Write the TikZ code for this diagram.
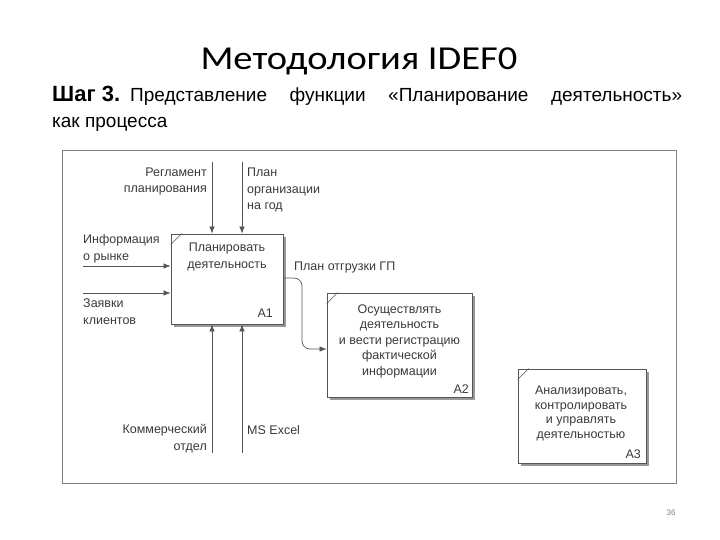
\documentclass[tikz,border=0pt]{standalone}
\usepackage{fontspec}
\setmainfont{Liberation Sans}
\newfontfamily\titlefont{Carlito}
\usetikzlibrary{arrows.meta,shadows}
\definecolor{ink}{HTML}{3A3A3A}
\definecolor{edge}{HTML}{555555}
\begin{document}
\begin{tikzpicture}[x=1pt,y=-1pt,
  box/.style={draw=edge,line width=0.8pt,fill=white,rectangle,inner sep=0pt,
    drop shadow={shadow xshift=3pt,shadow yshift=-3pt,fill=gray!80,opacity=1}},
  lbl/.style={text=ink,font=\fontsize{12.5}{16.5}\selectfont,inner sep=0pt},
  arr/.style={draw=edge,line width=0.7pt,-{Latex[length=7pt,width=5.5pt]}},
  frame/.style={draw=gray,line width=0.9pt}]
\useasboundingbox (0,0) rectangle (720,540);
% heading
\node[anchor=base,inner sep=0pt,font=\titlefont\fontsize{33.5}{38}\selectfont] (title) at (359,70) {\scalebox{1.15}[1]{Методология IDEF0}};
\node[anchor=base west,inner sep=0pt,font=\fontsize{19}{22}\selectfont] (step) at (52,102)
  {\hbox to 630pt{\textbf{\fontsize{22}{24}\selectfont Шаг 3.}\hskip 10pt Представление\hfill функции\hfill «Планирование\hfill деятельность»}};
\node[anchor=base west,inner sep=0pt,font=\fontsize{19}{22}\selectfont] (step2) at (52,128) {как процесса};
% frame
\node[frame,rectangle,minimum width=614pt,minimum height=333pt,inner sep=0pt] (fr) at (369,316.5) {};
% boxes
\node[box,minimum width=112pt,minimum height=90pt] (A1) at (227,279) {};
\node[box,minimum width=145pt,minimum height=104pt] (A2) at (399.5,345) {};
\node[box,minimum width=128pt,minimum height=94pt] (A3) at (582,416) {};
\foreach \b in {A1,A2,A3}{
  \draw[edge,line width=0.6pt] ([yshift=-11pt]\b.north west) -- ([xshift=11pt]\b.north west);
}
% box texts (base = last line)
\node[lbl,align=center,anchor=base] (t1) at (227,268) {Планировать\\деятельность};
\node[lbl,anchor=base east] (n1) at (273,317) {A1};
\node[lbl,align=center,anchor=base,font=\fontsize{12.5}{15.5}\selectfont] (t2) at (399.5,375) {Осуществлять\\деятельность\\и вести регистрацию\\фактической\\информации};
\node[lbl,anchor=base east] (n2) at (469,393) {A2};
\node[lbl,align=center,anchor=base,font=\fontsize{12.5}{14.5}\selectfont] (t3) at (581,438) {Анализировать,\\контролировать\\и управлять\\деятельностью};
\node[lbl,anchor=base east] (n3) at (641,458) {A3};
% control arrows
\coordinate (c1) at (212,162);
\coordinate (c2) at (242,162);
\draw[arr] (c1) -- (c1 |- A1.north);
\draw[arr] (c2) -- (c2 |- A1.north);
\node[lbl,align=right,anchor=base east] (lc1) at (207,193) {Регламент\\планирования};
\node[lbl,align=left,anchor=base west] (lc2) at (247,210) {План\\организации\\на год};
% input arrows
\coordinate (i1) at (83,266);
\coordinate (i2) at (83,293);
\draw[arr] (i1) -- (i1 -| A1.west);
\draw[arr] (i2) -- (i2 -| A1.west);
\node[lbl,align=left,anchor=base west] (li1) at (83,260) {Информация\\о рынке};
\node[lbl,align=left,anchor=base west] (li2) at (83,324) {Заявки\\клиентов};
% mechanism arrows
\coordinate (m1) at (212,453);
\coordinate (m2) at (242,453);
\draw[arr] (m1) -- (m1 |- A1.south);
\draw[arr] (m2) -- (m2 |- A1.south);
\node[lbl,align=right,anchor=base east] (lm1) at (207,450) {Коммерческий\\отдел};
\node[lbl,align=left,anchor=base west] (lm2) at (247,434) {MS Excel};
% output A1 -> A2
\coordinate (o1) at (283,278);
\coordinate (o2) at (327,349);
\draw[arr,rounded corners=8pt] (o1 -| A1.east) -- (302,278) -- (302,349) -- (o2 -| A2.west);
\node[lbl,anchor=base west] (lo) at (294,270) {План отгрузки ГП};
% page number
\node[text=gray,font=\fontsize{8}{10}\selectfont,inner sep=0pt] (pg) at (671,513) {36};
\end{tikzpicture}
\end{document}
